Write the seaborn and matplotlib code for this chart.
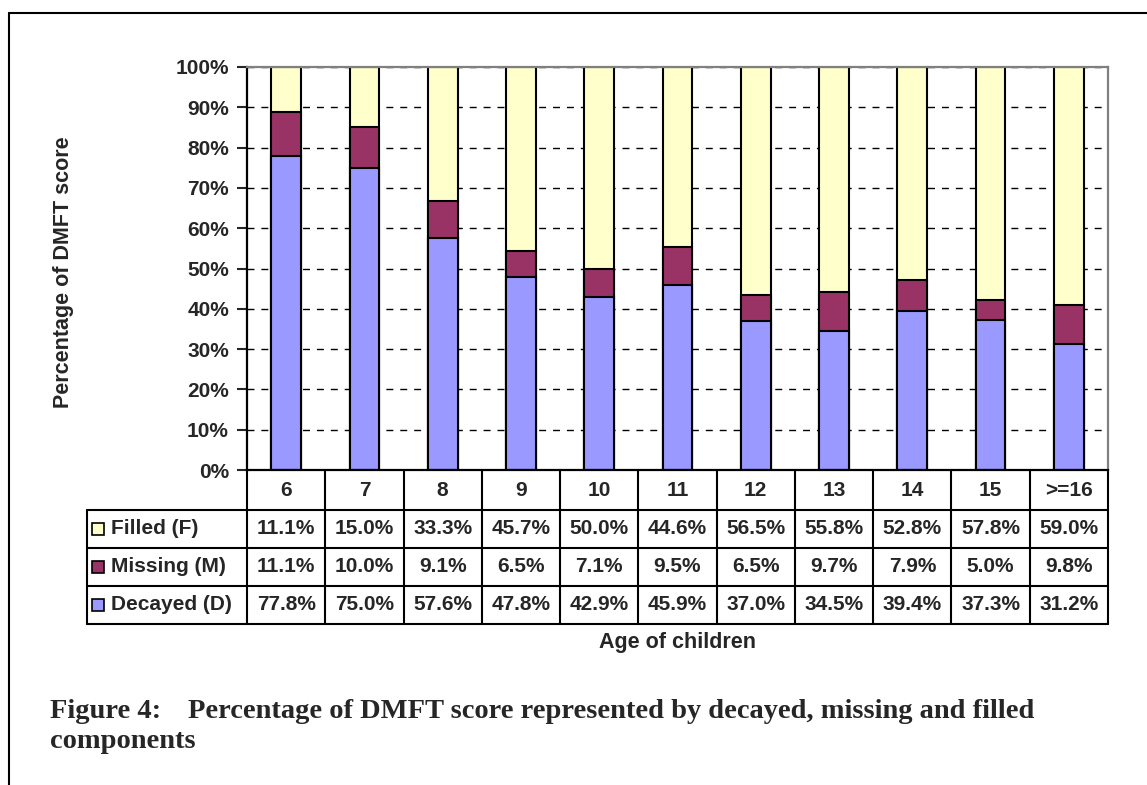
import numpy as np
import pandas as pd
import matplotlib
matplotlib.use("Agg")
import matplotlib.pyplot as plt
from matplotlib.lines import Line2D
from matplotlib.ticker import FuncFormatter
import seaborn as sns

# data
ages = ["6", "7", "8", "9", "10", "11", "12", "13", "14", "15", ">=16"]
filled = [11.1, 15.0, 33.3, 45.7, 50.0, 44.6, 56.5, 55.8, 52.8, 57.8, 59.0]
missing = [11.1, 10.0, 9.1, 6.5, 7.1, 9.5, 6.5, 9.7, 7.9, 5.0, 9.8]
decayed = [77.8, 75.0, 57.6, 47.8, 42.9, 45.9, 37.0, 34.5, 39.4, 37.3, 31.2]

row_names = ["Filled (F)", "Missing (M)", "Decayed (D)"]
row_colors = ["#FFFFCC", "#993366", "#9999FF"]

df = pd.DataFrame({"age": ages, "F": filled, "M": missing, "D": decayed})
total = df["F"] + df["M"] + df["D"]
# 100% stacked -> tops of each segment
df["top_D"] = df["D"] / total * 100
df["top_M"] = (df["D"] + df["M"]) / total * 100
df["top_F"] = 100.0

sns.set_style("white")
plt.rcParams["font.family"] = ["Liberation Sans", "DejaVu Sans"]
plt.rcParams["font.weight"] = "bold"

fig = plt.figure(figsize=(11.47, 7.85), dpi=100)
W, H = 1147, 785
ax_l, ax_r, ax_t, ax_b = 247, 1108, 67, 470
ax = fig.add_axes([ax_l / W, 1 - ax_b / H, (ax_r - ax_l) / W, (ax_b - ax_t) / H])

# stacked bars drawn tallest first
for col, c in zip(["top_F", "top_M", "top_D"], row_colors):
    sns.barplot(data=df, x="age", y=col, color=c, edgecolor="black",
                linewidth=1.5, width=0.38, saturation=1, ax=ax)

ax.set_ylim(0, 100)
ax.set_xlim(-0.5, len(ages) - 0.5)
ax.set_yticks(np.arange(0, 101, 10))
ax.yaxis.set_major_formatter(FuncFormatter(lambda v, p: f"{int(v)}%"))
ax.tick_params(axis="y", direction="out", length=7, width=1.5, pad=6,
               labelsize=15, left=True)
ax.tick_params(axis="x", length=0, labelbottom=False)
ax.set_axisbelow(True)
ax.yaxis.grid(True, color="black", linestyle=(0, (5, 5)), linewidth=1)
ax.xaxis.grid(False)

for s in ["left", "bottom"]:
    ax.spines[s].set_color("black")
    ax.spines[s].set_linewidth(1.6)
for s in ["top", "right"]:
    ax.spines[s].set_color("#808080")
    ax.spines[s].set_linewidth(1.6)

ax.set_ylabel("Percentage of DMFT score", fontsize=15.5, fontweight="bold")
ax.yaxis.set_label_coords((74 - ax_l) / (ax_r - ax_l), 0.49)
ax.set_xlabel("Age of children", fontsize=15.5, fontweight="bold")
ax.xaxis.set_label_coords(0.5, (ax_b - 632) / (ax_b - ax_t))

# data table under the axis
tr = ax.get_xaxis_transform()
colw = (ax_r - ax_l) / len(ages)
def ypos(py):
    return (ax_b - py) / (ax_b - ax_t)
row_edges = [ypos(p) for p in [470, 510, 548, 586, 624]]
x_left = -0.5 - (ax_l - 87) / colw

for k in range(len(ages) + 1):
    ax.add_line(Line2D([k - 0.5, k - 0.5], [row_edges[0], row_edges[-1]],
                       transform=tr, color="black", lw=1.5, clip_on=False))
ax.add_line(Line2D([x_left, x_left], [row_edges[1], row_edges[-1]],
                   transform=tr, color="black", lw=1.5, clip_on=False))
for yy in row_edges[1:]:
    ax.add_line(Line2D([x_left, len(ages) - 0.5], [yy, yy],
                       transform=tr, color="black", lw=1.5, clip_on=False))

fs = 15
for i, a in enumerate(ages):
    ax.text(i, (row_edges[0] + row_edges[1]) / 2, a, transform=tr,
            ha="center", va="center", fontsize=fs, fontweight="bold")

rows = [filled, missing, decayed]
sq_x = -0.5 - (ax_l - 98) / colw
tx_x = -0.5 - (ax_l - 111) / colw
for r, (name, c, vals) in enumerate(zip(row_names, row_colors, rows)):
    yc = (row_edges[r + 1] + row_edges[r + 2]) / 2
    ax.add_line(Line2D([sq_x], [yc], transform=tr, marker="s", markersize=8,
                       markerfacecolor=c, markeredgecolor="black",
                       markeredgewidth=1.2, linestyle="none", clip_on=False))
    ax.text(tx_x, yc, name, transform=tr, ha="left", va="center",
            fontsize=fs, fontweight="bold")
    for i, v in enumerate(vals):
        ax.text(i, yc, f"{v:.1f}%", transform=tr, ha="center", va="center",
                fontsize=fs, fontweight="bold")

# caption
cap_font = dict(family=["Liberation Serif", "DejaVu Serif"], fontsize=20.5,
                fontweight="bold", va="baseline", ha="left")
fig.text(50 / W, 1 - 718 / H, "Figure 4:", **cap_font)
fig.text(188 / W, 1 - 718 / H,
         "Percentage of DMFT score represented by decayed, missing and filled",
         **cap_font)
fig.text(50 / W, 1 - 748 / H, "components", **cap_font)

# frame of the page box
fig.add_artist(Line2D([9 / W, 9 / W], [0, 1 - 13 / H], transform=fig.transFigure,
                      color="black", lw=1.5))
fig.add_artist(Line2D([9 / W, 1], [1 - 13 / H, 1 - 13 / H], transform=fig.transFigure,
                      color="black", lw=1.5))

fig.savefig("out.png", dpi=100)
